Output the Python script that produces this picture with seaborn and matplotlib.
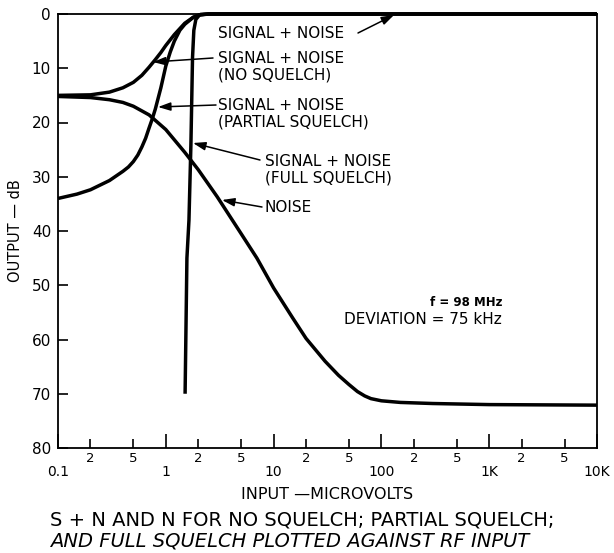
import matplotlib
matplotlib.use("Agg")
import matplotlib.pyplot as plt
import seaborn as sns
import pandas as pd

# ---- data ----
noise_x = [0.1, 0.2, 0.3, 0.4, 0.5, 0.7, 1.0, 1.5, 2, 3, 5, 7, 10, 15, 20, 30, 40, 50, 60, 70, 80, 100, 150, 300, 1000, 10000]
noise_y = [15.2, 15.4, 15.8, 16.3, 17.0, 18.6, 21.3, 25.5, 28.7, 33.7, 40.5, 45.0, 50.5, 56.0, 59.8, 64.0, 66.6, 68.3, 69.6, 70.4, 70.9, 71.3, 71.6, 71.8, 72.0, 72.1]

nosq_x = [0.1, 0.2, 0.3, 0.4, 0.5, 0.6, 0.7, 0.8, 0.9, 1.0, 1.2, 1.5, 1.8, 2.1, 2.5, 10000]
nosq_y = [15.0, 14.9, 14.4, 13.6, 12.6, 11.3, 9.8, 8.4, 7.1, 5.8, 3.8, 1.7, 0.6, 0.1, 0.0, 0.0]

part_x = [0.1, 0.15, 0.2, 0.3, 0.4, 0.45, 0.5, 0.55, 0.6, 0.65, 0.7, 0.75, 0.8, 0.9, 1.0, 1.1, 1.2, 1.35, 1.5, 1.8, 2.1, 2.5, 10000]
part_y = [34.0, 33.2, 32.4, 30.7, 29.0, 28.2, 27.2, 26.0, 24.5, 22.9, 21.0, 19.3, 17.5, 13.6, 9.6, 7.0, 5.0, 3.0, 1.9, 0.6, 0.1, 0.0, 0.0]

full_x = [1.51, 1.57, 1.64, 1.71, 1.77, 1.82, 1.9, 2.05, 2.5, 10000]
full_y = [70.0, 45.0, 38.0, 24.0, 8.0, 3.0, 1.0, 0.2, 0.0, 0.0]

major_ticks = [0.1, 1, 10, 100, 1000, 10000]
major_labels = ["0.1", "1", "10", "100", "1K", "10K"]
minor_ticks = [0.2, 0.5, 2, 5, 20, 50, 200, 500, 2000, 5000]
minor_labels = ["2", "5", "2", "5", "2", "5", "2", "5", "2", "5"]
y_ticks = [0, 10, 20, 30, 40, 50, 60, 70, 80]

frames = []
for name, xs, ys in [("noise", noise_x, noise_y), ("nosq", nosq_x, nosq_y),
                     ("partial", part_x, part_y), ("full", full_x, full_y)]:
    frames.append(pd.DataFrame({"x": xs, "y": ys, "series": name}))
df = pd.concat(frames, ignore_index=True)

sns.set_style("ticks")
plt.rcParams["font.family"] = ["DejaVu Sans"]
plt.rcParams["text.color"] = "black"
plt.rcParams["axes.labelcolor"] = "black"
plt.rcParams["xtick.color"] = "black"
plt.rcParams["ytick.color"] = "black"

fig = plt.figure(figsize=(6.14, 5.53), dpi=100)
ax = fig.add_axes([58/614, 1-448/553, (597-58)/614, (448-14)/553])

sns.lineplot(data=df, x="x", y="y", hue="series", units="series", estimator=None,
             sort=False, palette={"noise": "black", "nosq": "black", "partial": "black", "full": "black"},
             linewidth=2.5, legend=False, ax=ax)
for ln in ax.lines:
    ln.set_clip_on(False)
    ln.set_solid_capstyle("butt")
    ln.set_solid_joinstyle("round")

ax.set_xscale("log")
ax.set_xlim(0.1, 10000)
ax.set_ylim(80, 0)
ax.set_xticks(major_ticks)
ax.set_xticklabels(major_labels)
ax.set_xticks(minor_ticks, minor=True)
ax.set_xticklabels(minor_labels, minor=True)
ax.set_yticks(y_ticks)
ax.set_yticklabels([str(v) for v in y_ticks])

ax.tick_params(axis="x", which="major", direction="in", length=10, width=1.2, pad=12, labelsize=10,
               colors="black")
ax.tick_params(axis="x", which="minor", direction="in", length=6.5, width=1.2, pad=3, labelsize=9.5,
               colors="black")
ax.tick_params(axis="y", which="major", direction="in", length=7, width=1.2, pad=5, labelsize=11,
               colors="black")
ax.tick_params(axis="y", which="minor", left=False)
for s in ax.spines.values():
    s.set_visible(True)
    s.set_linewidth(1.3)
    s.set_color("black")

ax.set_xlabel("INPUT —MICROVOLTS", fontsize=11.5, labelpad=6, color="black")
ax.set_ylabel("OUTPUT — dB", fontsize=10.5, labelpad=6, color="black")

# ---- annotation text ----
def fx(px):
    return (px - 58) / (597 - 58)

def fy(py):
    return 1 - (py - 14) / (448 - 14)

tk = dict(fontsize=11, ha="left", va="center", transform=ax.transAxes, linespacing=1.15, color="black")
ax.text(fx(218), fy(33), "SIGNAL + NOISE", **tk)
ax.text(fx(218), fy(67), "SIGNAL + NOISE\n(NO SQUELCH)", **tk)
ax.text(fx(218), fy(114), "SIGNAL + NOISE\n(PARTIAL SQUELCH)", **tk)
ax.text(fx(265), fy(170), "SIGNAL + NOISE\n(FULL SQUELCH)", **tk)
ax.text(fx(265), fy(208), "NOISE", **tk)
ax.text(fx(502), fy(302), "f = 98 MHz", fontsize=8.5, fontweight="bold", ha="right", va="center",
        transform=ax.transAxes, color="black")
ax.text(fx(502), fy(320), "DEVIATION = 75 kHz", fontsize=11, ha="right", va="center",
        transform=ax.transAxes, color="black")

arr = dict(arrowstyle="-|>,head_length=0.75,head_width=0.25", color="black", lw=1.1, shrinkA=0, shrinkB=0)
def arrow(start_px, tip_px):
    ax.annotate("", xy=(fx(tip_px[0]), fy(tip_px[1])), xycoords="axes fraction",
                xytext=(fx(start_px[0]), fy(start_px[1])), textcoords="axes fraction",
                arrowprops=arr, annotation_clip=False)

arrow((358, 33), (394, 15))
arrow((213, 58), (153, 62))
arrow((216, 105), (158, 107))
arrow((260, 160), (193, 143))
arrow((262, 207), (222, 200))

# ---- caption ----
fig.text(50/614, 1-520/553, "S + N AND N FOR NO SQUELCH; PARTIAL SQUELCH;", fontsize=14,
         ha="left", va="center", color="black")
fig.text(50/614, 1-541/553, "AND FULL SQUELCH PLOTTED AGAINST RF INPUT", fontsize=14,
         ha="left", va="center", style="italic", color="black")

fig.savefig("out.png", dpi=100)
